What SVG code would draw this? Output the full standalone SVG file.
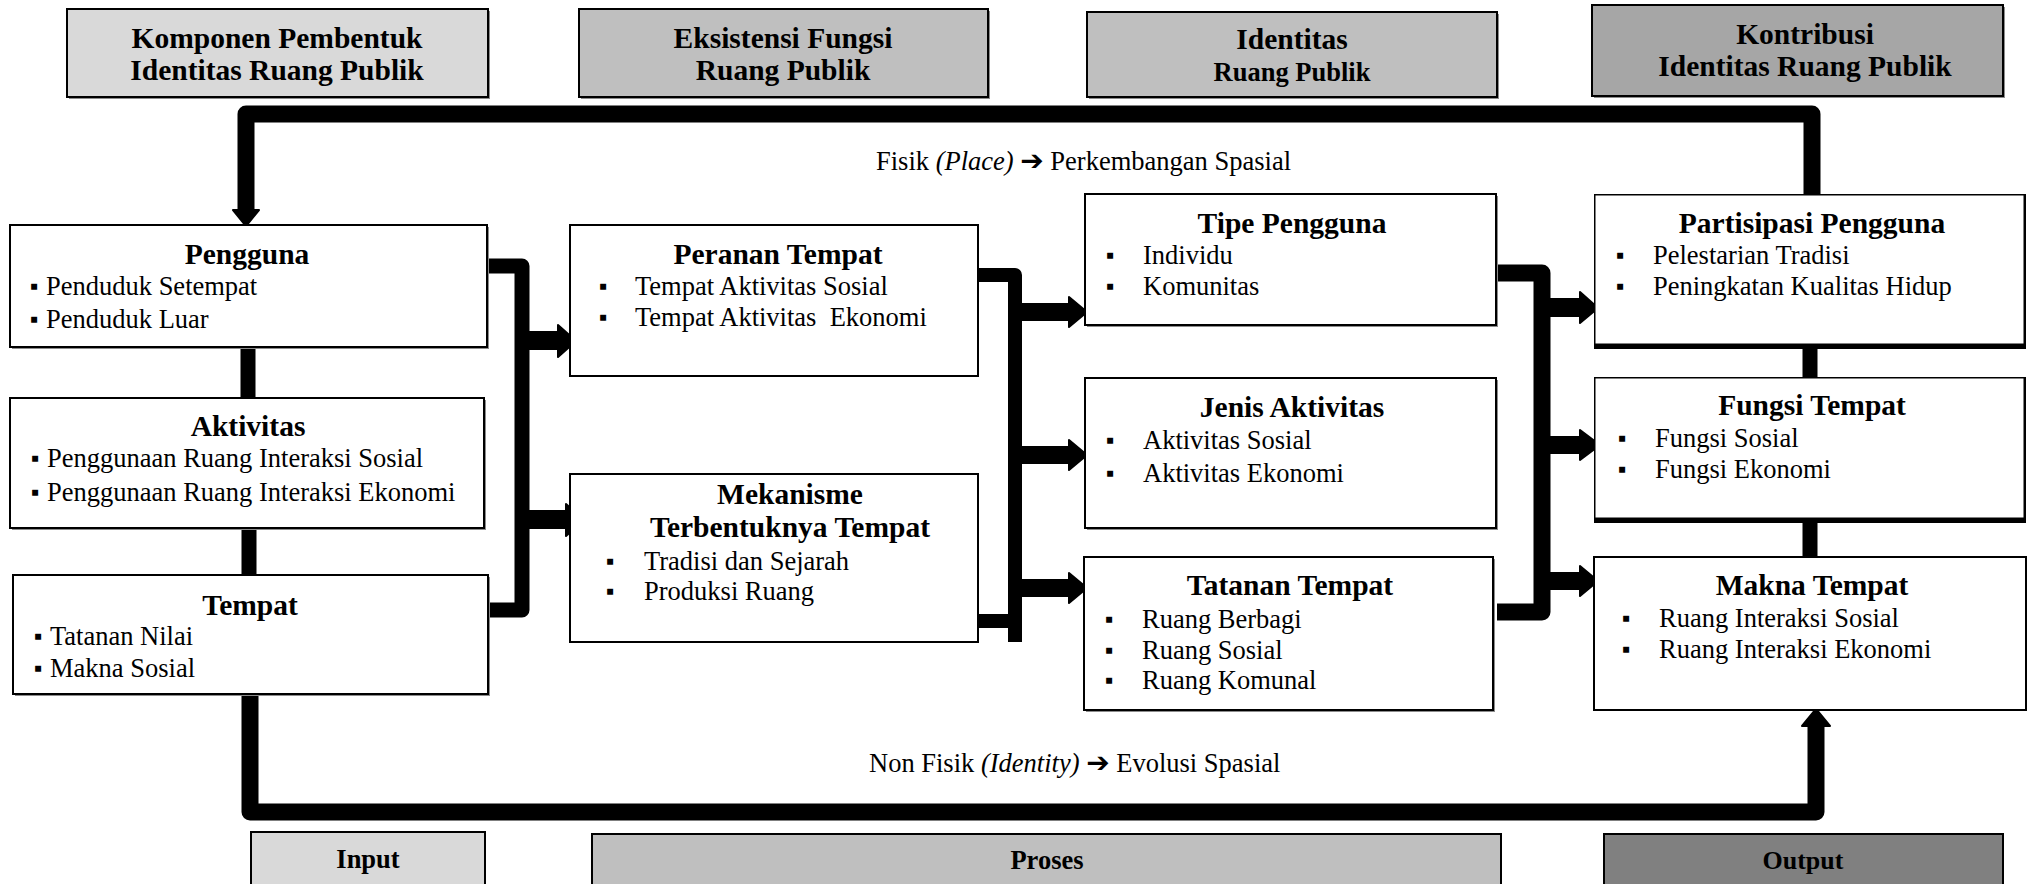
<svg xmlns="http://www.w3.org/2000/svg" width="2031" height="884" viewBox="0 0 2031 884">
<style>
text{font-family:"Liberation Serif","Times New Roman",serif;fill:#000}
.h{font-size:29.5px;font-weight:bold;text-anchor:middle}
.t{font-size:29.5px;font-weight:bold;text-anchor:middle}
.b{font-size:26.5px}
.bl{font-size:24px}
.lab{font-size:26.5px}
.box{fill:#fff;stroke:#000;stroke-width:2}
.sh{fill:#8c8c8c}
.con{fill:none;stroke:#000;stroke-linejoin:round}
.arr{fill:#000;stroke:#000;stroke-width:2;stroke-linejoin:round}
</style>
<rect width="2031" height="884" fill="#fff"/>

<!-- headers -->
<g id="hdr1"><rect x="69" y="11" width="421" height="88" class="sh"/><rect x="67" y="9" width="421" height="88" fill="#d9d9d9" stroke="#000" stroke-width="2"/><text class="h" x="277" y="48">Komponen Pembentuk</text><text class="h" x="277" y="80">Identitas Ruang Publik</text></g>
<g id="hdr2"><rect x="581" y="11" width="409" height="88" class="sh"/><rect x="579" y="9" width="409" height="88" fill="#bfbfbf" stroke="#000" stroke-width="2"/><text class="h" x="783" y="48">Eksistensi Fungsi</text><text class="h" x="783" y="80">Ruang Publik</text></g>
<g id="hdr3"><rect x="1089" y="14" width="410" height="85" class="sh"/><rect x="1087" y="12" width="410" height="85" fill="#bfbfbf" stroke="#000" stroke-width="2"/><text class="h" x="1292" y="49">Identitas</text><text class="h" x="1292" y="81" style="font-size:26.5px">Ruang Publik</text></g>
<g id="hdr4"><rect x="1594" y="7" width="411" height="91" class="sh"/><rect x="1592" y="5" width="411" height="91" fill="#a6a6a6" stroke="#000" stroke-width="2"/><text class="h" x="1805" y="44">Kontribusi</text><text class="h" x="1805" y="76">Identitas Ruang Publik</text></g>

<!-- connectors -->
<g id="connectors">
<path class="con" stroke-width="17" d="M1812,196 V114 H246 V212"/>
<polygon class="arr" points="233,210 259,210 246,226"/>
<path class="con" stroke-width="15" d="M248,347 V398 M249,528 V575"/>
<path class="con" stroke-width="17" d="M250,694 V812 H1816 V724"/>
<polygon class="arr" points="1802,726 1830,726 1816,709"/>
<path class="con" stroke-width="15" d="M489,266 H522 V610 H489"/>
<path class="arr" d="M522,332 H558 V325 L576,341 L558,357 V349 H522 Z"/>
<path class="arr" d="M522,511 H566 V504 L584,520 L566,536 V528 H522 Z"/>
<path class="con" stroke-width="14" d="M978,275 H1015 V642 M978,621 H1015"/>
<path class="arr" d="M1015,304 H1069 V297 L1087,312 L1069,327 V320 H1015 Z"/>
<path class="arr" d="M1015,447 H1069 V440 L1087,455 L1069,470 V463 H1015 Z"/>
<path class="arr" d="M1015,580 H1069 V573 L1087,588 L1069,603 V596 H1015 Z"/>
<path class="con" stroke-width="17" d="M1497,273 H1542 V612 H1497"/>
<path class="arr" d="M1542,299 H1580 V292 L1598,308 L1580,323 V316 H1542 Z"/>
<path class="arr" d="M1542,437 H1580 V430 L1600,445 L1580,460 V453 H1542 Z"/>
<path class="arr" d="M1542,573 H1580 V566 L1598,581 L1580,596 V589 H1542 Z"/>
<path class="con" stroke-width="15" d="M1810,347 V377 M1810,521 V557"/>
</g>

<!-- column 1 -->
<g id="pengguna"><rect x="12" y="227" width="477" height="122" class="sh"/><rect x="10" y="225" width="477" height="122" class="box"/>
<text class="t" x="247" y="264">Pengguna</text>
<text class="bl" x="30" y="294">▪</text><text class="b" x="46" y="295">Penduduk Setempat</text>
<text class="bl" x="30" y="327">▪</text><text class="b" x="46" y="328">Penduduk Luar</text></g>
<g id="aktivitas"><rect x="12" y="400" width="474" height="130" class="sh"/><rect x="10" y="398" width="474" height="130" class="box"/>
<text class="t" x="248" y="436">Aktivitas</text>
<text class="bl" x="31" y="466">▪</text><text class="b" x="47" y="467">Penggunaan Ruang Interaksi Sosial</text>
<text class="bl" x="31" y="500">▪</text><text class="b" x="47" y="501">Penggunaan Ruang Interaksi Ekonomi</text></g>
<g id="tempat"><rect x="15" y="577" width="475" height="119" class="sh"/><rect x="13" y="575" width="475" height="119" class="box"/>
<text class="t" x="250" y="615">Tempat</text>
<text class="bl" x="34" y="644">▪</text><text class="b" x="50" y="645">Tatanan Nilai</text>
<text class="bl" x="34" y="676">▪</text><text class="b" x="50" y="677">Makna Sosial</text></g>

<!-- column 2 -->
<g id="peranan"><rect x="570" y="225" width="408" height="151" class="box"/>
<text class="t" x="778" y="264">Peranan Tempat</text>
<text class="bl" x="599" y="294">▪</text><text class="b" x="635" y="295">Tempat Aktivitas Sosial</text>
<text class="bl" x="599" y="325">▪</text><text class="b" x="635" y="326">Tempat Aktivitas&#160; Ekonomi</text></g>
<g id="mekanisme"><rect x="570" y="474" width="408" height="168" class="box"/>
<text class="t" x="790" y="504">Mekanisme</text>
<text class="t" x="790" y="537">Terbentuknya Tempat</text>
<text class="bl" x="606" y="569">▪</text><text class="b" x="644" y="570">Tradisi dan Sejarah</text>
<text class="bl" x="606" y="599">▪</text><text class="b" x="644" y="600">Produksi Ruang</text></g>

<!-- column 3 -->
<g id="tipe"><rect x="1087" y="196" width="411" height="131" class="sh"/><rect x="1085" y="194" width="411" height="131" class="box"/>
<text class="t" x="1292" y="233">Tipe Pengguna</text>
<text class="bl" x="1106" y="263">▪</text><text class="b" x="1143" y="264">Individu</text>
<text class="bl" x="1106" y="294">▪</text><text class="b" x="1143" y="295">Komunitas</text></g>
<g id="jenis"><rect x="1087" y="380" width="411" height="150" class="sh"/><rect x="1085" y="378" width="411" height="150" class="box"/>
<text class="t" x="1292" y="417">Jenis Aktivitas</text>
<text class="bl" x="1106" y="448">▪</text><text class="b" x="1143" y="449">Aktivitas Sosial</text>
<text class="bl" x="1106" y="481">▪</text><text class="b" x="1143" y="482">Aktivitas Ekonomi</text></g>
<g id="tatanan"><rect x="1086" y="559" width="409" height="153" class="sh"/><rect x="1084" y="557" width="409" height="153" class="box"/>
<text class="t" x="1290" y="595">Tatanan Tempat</text>
<text class="bl" x="1105" y="627">▪</text><text class="b" x="1142" y="628">Ruang Berbagi</text>
<text class="bl" x="1105" y="658">▪</text><text class="b" x="1142" y="659">Ruang Sosial</text>
<text class="bl" x="1105" y="688">▪</text><text class="b" x="1142" y="689">Ruang Komunal</text></g>

<!-- column 4 -->
<g id="partisipasi"><rect x="1594" y="194" width="432" height="155" fill="#000"/><rect x="1595.5" y="195.5" width="428" height="148" fill="#fff"/>
<text class="t" x="1812" y="233">Partisipasi Pengguna</text>
<text class="bl" x="1616" y="263">▪</text><text class="b" x="1653" y="264">Pelestarian Tradisi</text>
<text class="bl" x="1616" y="294">▪</text><text class="b" x="1653" y="295">Peningkatan Kualitas Hidup</text></g>
<g id="fungsi"><rect x="1594" y="377" width="432" height="146" fill="#000"/><rect x="1595.5" y="378.5" width="428" height="139" fill="#fff"/>
<text class="t" x="1812" y="415">Fungsi Tempat</text>
<text class="bl" x="1618" y="446">▪</text><text class="b" x="1655" y="447">Fungsi Sosial</text>
<text class="bl" x="1618" y="477">▪</text><text class="b" x="1655" y="478">Fungsi Ekonomi</text></g>
<g id="makna"><rect x="1594" y="557" width="432" height="153" class="box"/>
<text class="t" x="1812" y="595">Makna Tempat</text>
<text class="bl" x="1622" y="626">▪</text><text class="b" x="1659" y="627">Ruang Interaksi Sosial</text>
<text class="bl" x="1622" y="657">▪</text><text class="b" x="1659" y="658">Ruang Interaksi Ekonomi</text></g>

<!-- labels -->
<text class="lab" x="876" y="170">Fisik <tspan font-style="italic">(Place)</tspan> <tspan font-family="DejaVu Sans" font-weight="bold" font-size="28">➔</tspan> Perkembangan Spasial</text>
<text class="lab" x="869" y="772">Non Fisik <tspan font-style="italic">(Identity)</tspan> <tspan font-family="DejaVu Sans" font-weight="bold" font-size="28">➔</tspan> Evolusi Spasial</text>

<!-- bottom -->
<g id="input"><rect x="251" y="832" width="234" height="60" fill="#d9d9d9" stroke="#000" stroke-width="2"/><text class="t" x="368" y="868" style="font-size:26.5px">Input</text></g>
<g id="proses"><rect x="592" y="834" width="909" height="60" fill="#bfbfbf" stroke="#000" stroke-width="2"/><text class="t" x="1047" y="869" style="font-size:26.5px">Proses</text></g>
<g id="output"><rect x="1604" y="834" width="399" height="60" fill="#808080" stroke="#000" stroke-width="2"/><text class="t" x="1803" y="869" style="font-size:26px">Output</text></g>
</svg>
